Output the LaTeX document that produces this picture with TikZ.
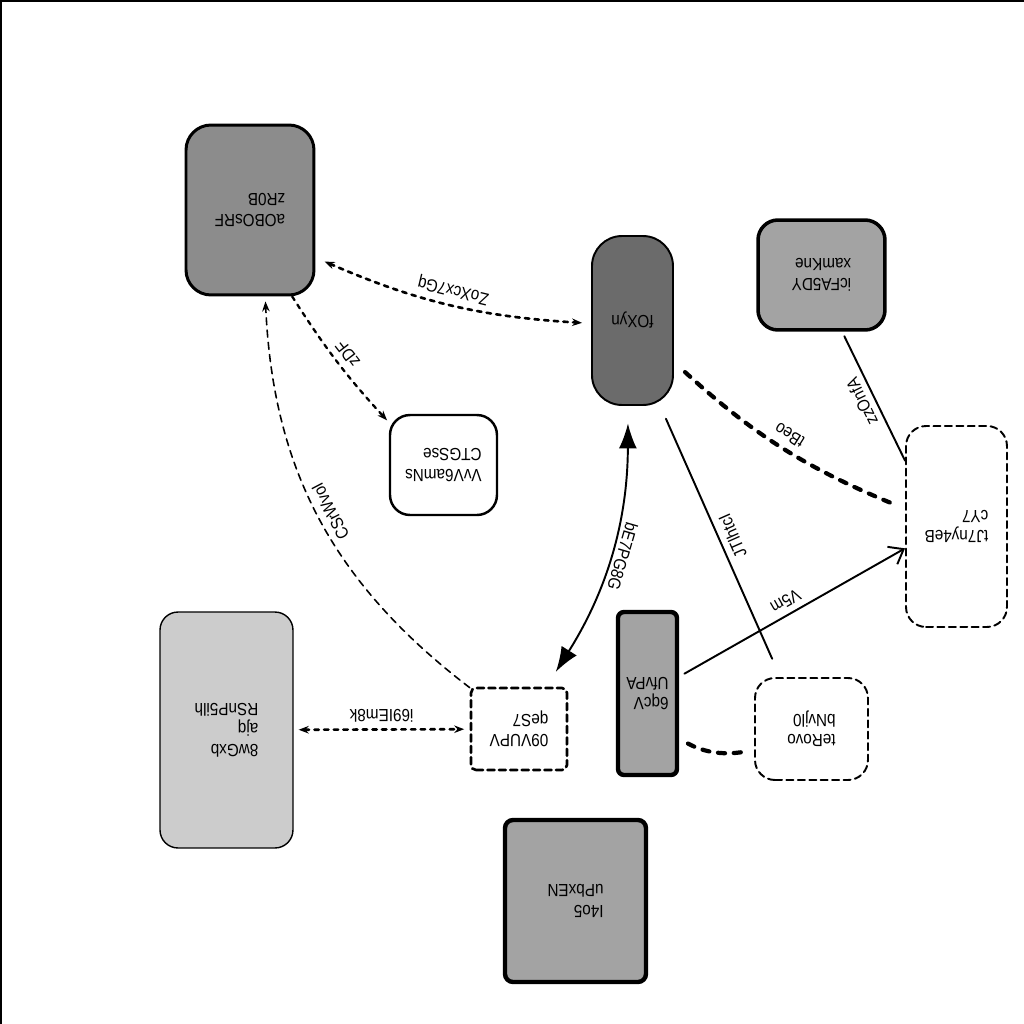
\documentclass[tikz,border=0pt]{standalone}
\usepackage{fontspec}
\setmainfont{Liberation Sans}[FakeStretch=0.87]
\usetikzlibrary{arrows.meta}
\usepackage{xcolor}

\definecolor{graydark}{gray}{0.42}
\definecolor{graymid}{gray}{0.55}
\definecolor{graylight}{gray}{0.64}
\definecolor{graypale}{gray}{0.80}

\begin{document}
\begin{tikzpicture}[x=0.02cm,y=0.02cm,rotate=180,transform shape,
  >={Stealth[length=2mm]},line cap=round,
  font=\fontsize{10}{11.6}\selectfont,
  item/.style={draw,align=left,inner sep=3pt},
  dashitem/.style={item,fill=white,dash pattern=on 4pt off 2.5pt},
  dotline/.style={line width=1.5pt,dash pattern=on 2.5pt off 3pt},
  thinline/.style={line width=1.1pt},
  heavydash/.style={line width=2.4pt,dash pattern=on 4pt off 5pt},
  lbl/.style={sloped,auto}]
\useasboundingbox (0,0) rectangle (1024,1024);
\draw[line width=2pt] (0,0) -- (1024,0) -- (1024,1024);

\node[item,fill=graymid,line width=1.7pt,rounded corners=0.5cm,minimum width=2.56cm,minimum height=3.4cm] (aob) at (774,210) {aOBOsRF\\zR0B};
\node[item,fill=white,line width=1.4pt,rounded corners=0.4cm,minimum width=2.14cm,minimum height=2cm] (vvv) at (580.5,465) {VvV6amNs\\CTGSse};
\node[item,fill=graydark,line width=1.1pt,rounded corners=0.6cm,minimum width=1.62cm,minimum height=3.38cm] (fox) at (391.5,320.5) {fOXyn};
\node[item,fill=graylight,line width=2pt,rounded corners=0.4cm,minimum width=2.54cm,minimum height=2.2cm] (icf) at (202.5,275) {icFA5DY\\xamKne};
\node[dashitem,line width=1.1pt,rounded corners=0.4cm,minimum width=2.02cm,minimum height=4.02cm] (tj7) at (67.5,526.5) {tJ7ny4eB\\cY7};
\node[item,fill=graypale,line width=0.8pt,rounded corners=0.36cm,minimum width=2.66cm,minimum height=4.72cm] (wgx) at (797.5,730) {8wGxb\\ajq\\RSnP5ilh};
\node[dashitem,line width=1.5pt,rounded corners=0.1cm,minimum width=1.92cm,minimum height=1.64cm] (v09) at (505,729) {09VUPV\\qeS7};
\node[item,fill=graylight,line width=2.5pt,rounded corners=0.12cm,minimum width=1.18cm,minimum height=3.26cm] (qcv) at (376.5,693.5) {6qcV\\UfvPA};
\node[dashitem,line width=1.1pt,rounded corners=0.4cm,minimum width=2.26cm,minimum height=2.04cm] (tro) at (212.5,729) {teRovo\\bNvjl0};
\node[item,fill=graylight,line width=2.5pt,rounded corners=0.16cm,minimum width=2.82cm,minimum height=3.24cm] (i4o) at (448.5,901) {I4o5\\uPbxEN};

% connectors
\draw[dotline,<->,shorten <=2mm,shorten >=1.8mm] (aob.144) to[bend right=10] node[lbl]{ZoXcx7Gq} (fox.4);
\draw[dotline,line width=1.3pt,->,shorten >=0.5mm] (aob.116) to[bend right=5] node[lbl]{zDF} (vvv.-38);
\draw[thinline,line width=0.9pt,dash pattern=on 4pt off 3pt,->,shorten >=1mm] (v09.-40) to[bend left=25] node[lbl]{CSrWvoI} (aob.100);
\draw[thinline,{Latex[length=5mm,width=3.6mm]}-{Latex[length=5mm,width=3.6mm]},shorten <=3.5mm,shorten >=3.5mm] (fox.87) to[bend left=16] node[lbl,swap]{bE7PG8G} (v09.-123);
\draw[thinline,shorten <=2.8mm,shorten >=4mm] (fox.108) -- node[lbl]{JTlhtcI} (tro.-59);
\draw[heavydash,shorten <=3mm,shorten >=2.7mm] (fox.135) to[bend right=10] node[lbl]{tBeo} (tj7.-19);
\draw[thinline,shorten <=1mm] (icf.110) -- node[lbl,swap]{zzOnfA} (tj7.-52);
\draw[thinline,-{Straight Barb[length=2.6mm,width=4mm]},shorten <=1.2mm] (qcv.-152) -- node[lbl]{V5m} (tj7.23);
\draw[heavydash,shorten <=2mm,shorten >=1mm] (qcv.125) to[bend right=20] (tro.20);
\draw[dotline,<->,shorten <=1mm,shorten >=1.1mm] (wgx) -- node[lbl]{i69IEm8k} (v09);
\end{tikzpicture}
\end{document}
